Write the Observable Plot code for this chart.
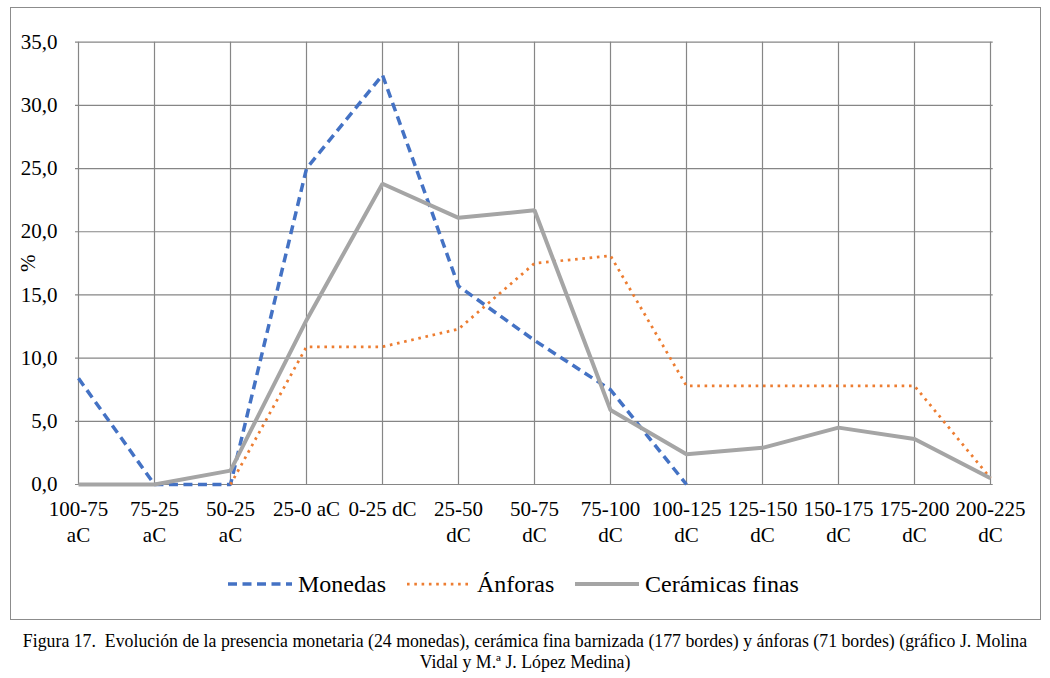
<!DOCTYPE html>
<html>
<head>
<meta charset="utf-8">
<script src="https://cdn.jsdelivr.net/npm/d3@7"></script>
<script src="https://cdn.jsdelivr.net/npm/@observablehq/plot@0.6"></script>
</head>
<body style="margin:0;background:#fff">
<div id="fig17" style="position:relative;width:1050px;height:678px;font-family:'Liberation Serif' !important">
  <div id="frame17" style="position:absolute;left:10px;top:7px;width:1031px;height:613px;border:1.5px solid #8c8c8c;box-sizing:border-box"></div>
  <div id="area17" style="position:absolute;left:0;top:0"></div>
  <div id="key17" style="position:absolute;left:0;top:568px;width:1050px;height:32px"></div>
  <div id="note17" style="position:absolute;left:0;top:631px;width:1050px;text-align:center;font-size:17.8px;line-height:21px;color:#000;font-family:'Liberation Serif' !important">Figura 17.&nbsp; Evolución de la presencia monetaria (24 monedas), cerámica fina barnizada (177 bordes) y ánforas (71 bordes) (gráfico J. Molina<br>Vidal y M.ª J. López Medina)</div>
</div>
<script>
const categories = ["100-75 aC","75-25 aC","50-25 aC","25-0 aC","0-25 dC","25-50 dC","50-75 dC","75-100 dC","100-125 dC","125-150 dC","150-175 dC","175-200 dC","200-225 dC"];
const tickLabels = ["100-75\naC","75-25\naC","50-25\naC","25-0 aC","0-25 dC","25-50\ndC","50-75\ndC","75-100\ndC","100-125\ndC","125-150\ndC","150-175\ndC","175-200\ndC","200-225\ndC"];
const monedas   = [8.4, 0, 0, 25.0, 32.4, 15.7, 11.4, 7.5, 0, null, null, null, null];
const anforas   = [null, null, 0, 10.9, 10.9, 12.3, 17.5, 18.1, 7.8, 7.8, 7.8, 7.8, 0.5];
const ceramicas = [0, 0, 1.1, 13.0, 23.8, 21.1, 21.7, 5.9, 2.4, 2.9, 4.5, 3.6, 0.5];
const yTicks = [0, 5, 10, 15, 20, 25, 30, 35];

const seriesNames = ["Monedas", "Ánforas", "Cerámicas finas"];
const seriesValues = [monedas, anforas, ceramicas];
const seriesStyle = [
  {stroke: "#4472C4", strokeWidth: 3.5, dash: "9,5.5"},
  {stroke: "#ED7D31", strokeWidth: 2.75, dash: "2.6,4.7"},
  {stroke: "#A5A5A5", strokeWidth: 4, dash: null}
];

const rows = s => categories.map((c, i) => ({cat: c, v: seriesValues[s][i]})).filter(d => d.v != null);
const labelOf = new Map(categories.map((c, i) => [c, tickLabels[i]]));
const fmt = v => d3.format(".1f")(v).replace(".", ",");
const FONT = "Liberation Serif";

const lineMarks = seriesValues.map((_, s) => Plot.line(rows(s), {
  x: "cat", y: "v",
  stroke: seriesStyle[s].stroke,
  strokeWidth: seriesStyle[s].strokeWidth,
  strokeDasharray: seriesStyle[s].dash,
  strokeLinecap: "butt",
  strokeLinejoin: "miter"
}));

const plot = Plot.plot({
  width: 1050,
  height: 620,
  marginLeft: 75,
  marginRight: 57.3,
  marginTop: 41.7,
  marginBottom: 136,
  style: {fontFamily: FONT, background: "transparent", color: "#000"},
  x: {type: "point", domain: categories, padding: 0},
  y: {domain: [0, 35]},
  marks: [
    Plot.gridX(categories, {stroke: "#868686", strokeOpacity: 1, strokeWidth: 1.2}),
    Plot.gridY(yTicks, {stroke: "#868686", strokeOpacity: 1, strokeWidth: 1.2}),
    Plot.axisY(yTicks, {tickSize: 0, tickPadding: 18, tickFormat: fmt, fontSize: 21, fontFamily: FONT, label: "%", labelAnchor: "center", labelArrow: "none", labelOffset: 55}),
    Plot.axisX(categories, {tickSize: 0, tickPadding: 14, tickFormat: c => labelOf.get(c), fontSize: 21, fontFamily: FONT, lineHeight: 1.2, label: null}),
    ...lineMarks
  ]
});
plot.querySelectorAll("text, tspan").forEach(t => t.style.setProperty("font-family", FONT, "important"));
document.getElementById("area17").appendChild(plot);

// legend
const legend = document.getElementById("key17");
const legendX = [228, 407, 575];
seriesNames.forEach((name, s) => {
  const st = seriesStyle[s];
  const item = document.createElement("div");
  item.style.cssText = `position:absolute;top:0;left:${legendX[s]}px;display:flex;align-items:center;height:32px;font-size:24px;color:#000;`;
  item.style.setProperty("font-family", FONT, "important");
  const w = 64;
  item.innerHTML = `<svg width="${w}" height="10" style="margin-right:6px"><line x1="0" y1="5" x2="${w}" y2="5" stroke="${st.stroke}" stroke-width="${st.strokeWidth}" ${st.dash ? `stroke-dasharray="${st.dash}"` : ""}/></svg><span style="font-family:'Liberation Serif' !important">${name}</span>`;
  legend.appendChild(item);
});
</script>
</body>
</html>
